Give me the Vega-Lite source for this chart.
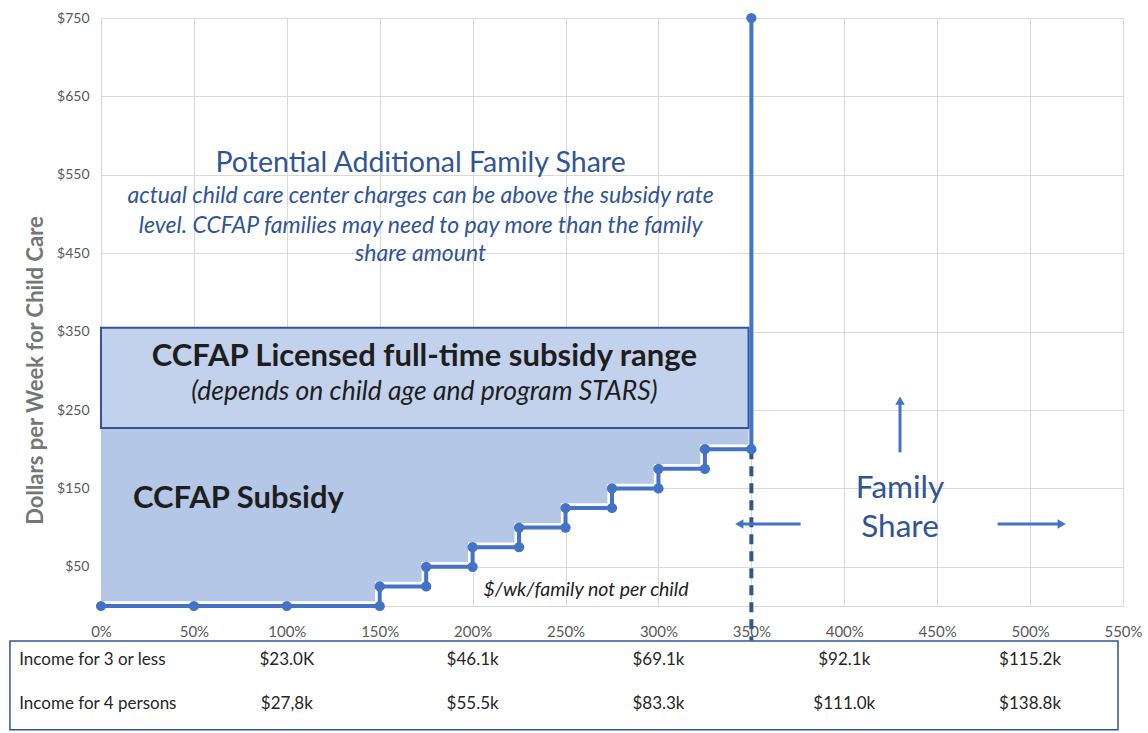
{
  "$schema": "https://vega.github.io/schema/vega-lite/v6.json",
  "width": 1022,
  "height": 588,
  "autosize": {"type": "none"},
  "padding": {"left": 101, "top": 18, "right": 25, "bottom": 127},
  "background": "white",
  "config": {
    "view": {"stroke": null},
    "font": "Lato",
    "axis": {
      "grid": true, "gridColor": "#D9D9D9", "gridWidth": 1,
      "domainColor": "#D9D9D9", "domainWidth": 1,
      "ticks": false, "labelColor": "#595959", "labelFont": "Lato", "labelFlush": false,
      "titleFont": "Lato"
    },
    "axisX": {"labelFontSize": 15, "labelPadding": 18},
    "axisY": {
      "labelFontSize": 14, "labelPadding": 12,
      "titleColor": "#767676", "titleFontSize": 22, "titleFontWeight": "bold",
      "titleX": -66, "titleY": 352, "titleBaseline": "middle", "titleAngle": 270
    }
  },
  "datasets": {
    "step": [
      {"i": 1, "x": 0, "y": 0}, {"i": 2, "x": 50, "y": 0}, {"i": 3, "x": 100, "y": 0},
      {"i": 4, "x": 150, "y": 0}, {"i": 5, "x": 150, "y": 25}, {"i": 6, "x": 175, "y": 25},
      {"i": 7, "x": 175, "y": 50}, {"i": 8, "x": 200, "y": 50}, {"i": 9, "x": 200, "y": 75},
      {"i": 10, "x": 225, "y": 75}, {"i": 11, "x": 225, "y": 100}, {"i": 12, "x": 250, "y": 100},
      {"i": 13, "x": 250, "y": 125}, {"i": 14, "x": 275, "y": 125}, {"i": 15, "x": 275, "y": 150},
      {"i": 16, "x": 300, "y": 150}, {"i": 17, "x": 300, "y": 175}, {"i": 18, "x": 325, "y": 175},
      {"i": 19, "x": 325, "y": 200}, {"i": 20, "x": 350, "y": 200}, {"i": 21, "x": 350, "y": 750}
    ],
    "subsidy": [
      {"x": 0, "y": 6}, {"x": 147.5, "y": 31}, {"x": 172.5, "y": 56}, {"x": 197.5, "y": 81},
      {"x": 222.5, "y": 106}, {"x": 247.5, "y": 131}, {"x": 272.5, "y": 156}, {"x": 297.5, "y": 181},
      {"x": 322.5, "y": 206}, {"x": 348.5, "y": 206}
    ],
    "range": [{"x": 0, "x2": 348.5, "y": 227, "y2": 355}],
    "cutoff": [{"x": 350, "y": 200, "y2": -44}],
    "arrows": [
      {"x": 430, "x2": 430, "y": 196, "y2": 262},
      {"x": 376.5, "x2": 343, "y": 104.6, "y2": 104.6},
      {"x": 482.5, "x2": 517, "y": 104.6, "y2": 104.6}
    ],
    "heads": [
      {"x": 430, "y": 262, "dir": "up"},
      {"x": 343.5, "y": 104.6, "dir": "left"},
      {"x": 517, "y": 104.6, "dir": "right"}
    ],
    "tableBox": [{"x": -49, "x2": 547.3, "y": -44.6, "y2": -158}],
    "tableLabels": [
      {"x": -44, "y": -69, "text": "Income for 3 or less"},
      {"x": -44, "y": -125, "text": "Income for 4 persons"}
    ],
    "tableValues": [
      {"x": 100, "y": -69, "text": "$23.0K"}, {"x": 200, "y": -69, "text": "$46.1k"},
      {"x": 300, "y": -69, "text": "$69.1k"}, {"x": 400, "y": -69, "text": "$92.1k"},
      {"x": 500, "y": -69, "text": "$115.2k"},
      {"x": 100, "y": -125, "text": "$27,8k"}, {"x": 200, "y": -125, "text": "$55.5k"},
      {"x": 300, "y": -125, "text": "$83.3k"}, {"x": 400, "y": -125, "text": "$111.0k"},
      {"x": 500, "y": -125, "text": "$138.8k"}
    ],
    "blueTitle": [{"x": 172, "y": 565, "text": "Potential Additional Family Share"}],
    "blueItalic": [
      {"x": 172, "y": 523, "text": "actual child care center charges can be above the subsidy rate"},
      {"x": 172, "y": 485, "text": "level. CCFAP families may need to pay more than the family"},
      {"x": 172, "y": 449, "text": "share amount"}
    ],
    "boldLabels": [
      {"x": 174, "y": 317.5, "text": "CCFAP Licensed full-time subsidy range"},
      {"x": 74, "y": 136.5, "text": "CCFAP Subsidy"}
    ],
    "italicNote": [{"x": 174, "y": 273, "text": "(depends on child age and program STARS)"}],
    "unitNote": [{"x": 261, "y": 20.5, "text": "$/wk/family not per child"}],
    "familyShare": [
      {"x": 430, "y": 149, "text": "Family"},
      {"x": 430, "y": 99.5, "text": "Share"}
    ]
  },
  "layer": [
    {
      "data": {"name": "subsidy"},
      "mark": {"type": "area", "interpolate": "step-after", "color": "#B4C7E7", "opacity": 1},
      "encoding": {
        "x": {
          "field": "x", "type": "quantitative",
          "scale": {"domain": [0, 550], "nice": false, "zero": false},
          "axis": {
            "values": [0, 50, 100, 150, 200, 250, 300, 350, 400, 450, 500, 550],
            "labelExpr": "datum.value + '%'",
            "title": null
          }
        },
        "y": {
          "field": "y", "type": "quantitative",
          "scale": {"domain": [0, 750], "nice": false, "zero": false},
          "axis": {
            "values": [50, 150, 250, 350, 450, 550, 650, 750],
            "labelExpr": "'$' + datum.value",
            "title": "Dollars per Week for Child Care"
          }
        },
        "y2": {"datum": 227}
      }
    },
    {
      "data": {"name": "range"},
      "mark": {"type": "rect", "fill": "#C3D2EC", "stroke": "#2F5597", "strokeWidth": 2},
      "encoding": {
        "x": {"field": "x", "type": "quantitative"},
        "x2": {"field": "x2"},
        "y": {"field": "y", "type": "quantitative"},
        "y2": {"field": "y2"}
      }
    },
    {
      "data": {"name": "cutoff"},
      "mark": {"type": "rule", "color": "#2F5597", "strokeWidth": 4, "strokeDash": [10, 7]},
      "encoding": {
        "x": {"field": "x", "type": "quantitative"},
        "y": {"field": "y", "type": "quantitative"},
        "y2": {"field": "y2"}
      }
    },
    {
      "data": {"name": "step"},
      "mark": {"type": "line", "color": "#4472C4", "strokeWidth": 4, "interpolate": "linear"},
      "encoding": {
        "x": {"field": "x", "type": "quantitative"},
        "y": {"field": "y", "type": "quantitative"},
        "order": {"field": "i", "type": "quantitative"}
      }
    },
    {
      "data": {"name": "step"},
      "mark": {"type": "point", "shape": "circle", "filled": true, "color": "#4472C4", "size": 105, "opacity": 1},
      "encoding": {
        "x": {"field": "x", "type": "quantitative"},
        "y": {"field": "y", "type": "quantitative"}
      }
    },
    {
      "data": {"name": "arrows"},
      "mark": {"type": "rule", "color": "#4472C4", "strokeWidth": 3},
      "encoding": {
        "x": {"field": "x", "type": "quantitative"},
        "x2": {"field": "x2"},
        "y": {"field": "y", "type": "quantitative"},
        "y2": {"field": "y2"}
      }
    },
    {
      "data": {"name": "heads"},
      "mark": {"type": "point", "filled": true, "color": "#4472C4", "size": 90, "opacity": 1},
      "encoding": {
        "x": {"field": "x", "type": "quantitative"},
        "y": {"field": "y", "type": "quantitative"},
        "shape": {
          "field": "dir", "type": "nominal", "legend": null,
          "scale": {"domain": ["up", "left", "right"], "range": ["triangle-up", "triangle-left", "triangle-right"]}
        }
      }
    },
    {
      "data": {"name": "tableBox"},
      "mark": {"type": "rect", "fill": null, "stroke": "#2F5597", "strokeWidth": 1.5, "clip": false},
      "encoding": {
        "x": {"field": "x", "type": "quantitative"},
        "x2": {"field": "x2"},
        "y": {"field": "y", "type": "quantitative"},
        "y2": {"field": "y2"}
      }
    },
    {
      "data": {"name": "tableLabels"},
      "mark": {"type": "text", "align": "left", "baseline": "middle", "fontSize": 17, "color": "#262626", "font": "Lato", "clip": false},
      "encoding": {
        "x": {"field": "x", "type": "quantitative"},
        "y": {"field": "y", "type": "quantitative"},
        "text": {"field": "text"}
      }
    },
    {
      "data": {"name": "tableValues"},
      "mark": {"type": "text", "align": "center", "baseline": "middle", "fontSize": 17, "color": "#262626", "font": "Lato", "clip": false},
      "encoding": {
        "x": {"field": "x", "type": "quantitative"},
        "y": {"field": "y", "type": "quantitative"},
        "text": {"field": "text"}
      }
    },
    {
      "data": {"name": "blueTitle"},
      "mark": {"type": "text", "align": "center", "baseline": "middle", "fontSize": 28.5, "color": "#2F5597", "font": "Lato"},
      "encoding": {
        "x": {"field": "x", "type": "quantitative"},
        "y": {"field": "y", "type": "quantitative"},
        "text": {"field": "text"}
      }
    },
    {
      "data": {"name": "blueItalic"},
      "mark": {"type": "text", "align": "center", "baseline": "middle", "fontSize": 23, "fontStyle": "italic", "color": "#2F5597", "font": "Lato"},
      "encoding": {
        "x": {"field": "x", "type": "quantitative"},
        "y": {"field": "y", "type": "quantitative"},
        "text": {"field": "text"}
      }
    },
    {
      "data": {"name": "boldLabels"},
      "mark": {"type": "text", "align": "center", "baseline": "middle", "fontSize": 31, "fontWeight": "bold", "color": "#1E1E1E", "font": "Lato"},
      "encoding": {
        "x": {"field": "x", "type": "quantitative"},
        "y": {"field": "y", "type": "quantitative"},
        "text": {"field": "text"}
      }
    },
    {
      "data": {"name": "italicNote"},
      "mark": {"type": "text", "align": "center", "baseline": "middle", "fontSize": 26.5, "fontStyle": "italic", "color": "#1E1E1E", "font": "Lato"},
      "encoding": {
        "x": {"field": "x", "type": "quantitative"},
        "y": {"field": "y", "type": "quantitative"},
        "text": {"field": "text"}
      }
    },
    {
      "data": {"name": "unitNote"},
      "mark": {"type": "text", "align": "center", "baseline": "middle", "fontSize": 19.5, "fontStyle": "italic", "color": "#1E1E1E", "font": "Lato"},
      "encoding": {
        "x": {"field": "x", "type": "quantitative"},
        "y": {"field": "y", "type": "quantitative"},
        "text": {"field": "text"}
      }
    },
    {
      "data": {"name": "familyShare"},
      "mark": {"type": "text", "align": "center", "baseline": "middle", "fontSize": 31.5, "color": "#2F5597", "font": "Lato"},
      "encoding": {
        "x": {"field": "x", "type": "quantitative"},
        "y": {"field": "y", "type": "quantitative"},
        "text": {"field": "text"}
      }
    }
  ]
}
